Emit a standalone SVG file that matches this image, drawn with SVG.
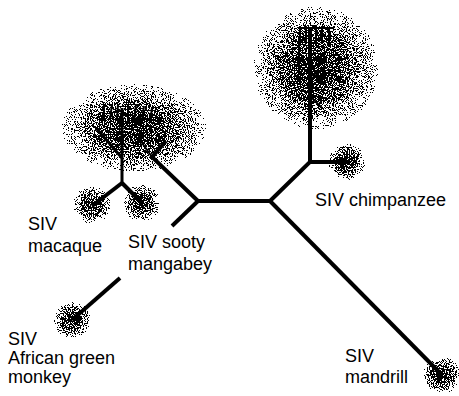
<svg xmlns="http://www.w3.org/2000/svg" width="459" height="396" viewBox="0 0 459 396">
<style>
.br{stroke:#000;stroke-width:4;fill:none;stroke-linejoin:miter}
.sub{stroke:#000;stroke-width:3;fill:none}
.fine{stroke:#000;stroke-width:2;fill:none}
.lbl{font-family:"Liberation Sans",Arial,sans-serif;font-size:18px;fill:#000}
.blob{filter:url(#dither)}
</style>
<defs>
<radialGradient id="g">
<stop offset="0" stop-color="#000" stop-opacity="1"/>
<stop offset="0.5" stop-color="#000" stop-opacity="0.72"/>
<stop offset="0.85" stop-color="#000" stop-opacity="0.3"/>
<stop offset="1" stop-color="#000" stop-opacity="0"/>
</radialGradient>
<filter id="dither" x="-20%" y="-20%" width="140%" height="140%" color-interpolation-filters="sRGB">
<feTurbulence type="fractalNoise" baseFrequency="0.95" numOctaves="2" seed="4" result="n"/>
<feColorMatrix in="n" type="matrix" values="0 0 0 0 0 0 0 0 0 0 0 0 0 0 0 3.2 0 0 0 -1.1" result="na"/>
<feComposite in="SourceAlpha" in2="na" operator="arithmetic" k1="0" k2="1" k3="-1" k4="0.44" result="c"/>
<feComponentTransfer in="c" result="t"><feFuncA type="discrete" tableValues="0 1"/></feComponentTransfer>
<feFlood flood-color="#000"/>
<feComposite in2="t" operator="in"/>
</filter>
</defs>

<g id="blobs">
<ellipse class="blob" cx="316" cy="68" rx="64" ry="63" fill="url(#g)"/>
<ellipse class="blob" cx="134" cy="128" rx="74" ry="45" fill="url(#g)"/>
<circle class="blob" cx="347" cy="162" r="19" fill="url(#g)"/>
<circle class="blob" cx="92" cy="205" r="19" fill="url(#g)"/>
<circle class="blob" cx="142" cy="203" r="19" fill="url(#g)"/>
<circle class="blob" cx="72" cy="320" r="19" fill="url(#g)"/>
<circle class="blob" cx="442" cy="375" r="19" fill="url(#g)"/>
</g>

<g id="connectors">
<path class="br" d="M198,201 L270,201"/>
<path class="br" d="M270,201 L310,162 L310,28"/>
<path class="br" d="M310,162 L347,162"/>
<path class="br" d="M270,201 L442,375"/>
<path class="br" d="M198,201 L172,226"/>
<path class="br" d="M120,278 L72,320"/>
<path class="br" d="M198,201 L152,157 L166,141"/>
<path class="sub" d="M122,183 L122,108"/>
<path class="sub" d="M122,158 L96,128"/>
<path class="br" d="M122,183 L92,206"/>
<path class="br" d="M122,183 L142,203"/>
<path class="fine" d="M104,120 L104,104 M110,120 L112,104 M117,120 L118,104 M128,122 L128,104 M134,122 L136,104 M142,120 L144,106 M150,122 L152,108 M140,140 L152,157"/>
<path class="fine" d="M299,75 L299,38 M300,26 L300,44 M306,26 L306,44 M316,26 L316,44 M322,26 L322,44 M329,28 L329,46 M298,28 L332,28 M310,96 L322,108 M310,80 L322,70"/>
</g>

<g id="labels">
<text class="lbl" x="28" y="230">SIV</text>
<text class="lbl" x="28" y="252">macaque</text>
<text class="lbl" x="128" y="248">SIV sooty</text>
<text class="lbl" x="128" y="270">mangabey</text>
<text class="lbl" x="315" y="206">SIV chimpanzee</text>
<text class="lbl" x="8" y="345">SIV</text>
<text class="lbl" x="8" y="364">African green</text>
<text class="lbl" x="8" y="383">monkey</text>
<text class="lbl" x="345" y="362">SIV</text>
<text class="lbl" x="345" y="383">mandrill</text>
</g>
</svg>
